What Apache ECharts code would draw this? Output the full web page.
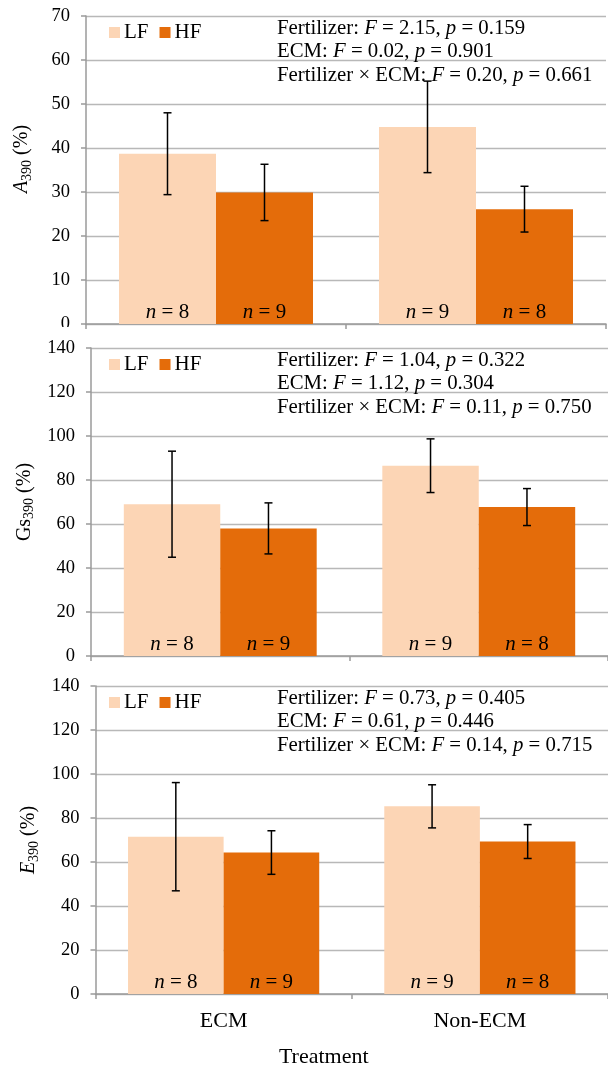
<!DOCTYPE html>
<html>
<head>
<meta charset="utf-8">
<script src="https://cdn.jsdelivr.net/npm/echarts@6/dist/echarts.min.js"></script>
<style>
html,body{margin:0;padding:0;background:#fff;}
#c{width:608px;height:1070px;}
</style>
</head>
<body>
<div id="c"></div>
<script>
// ---------- data ----------
const categories = ['ECM', 'Non-ECM'];
const seriesNames = ['LF', 'HF'];

const aLF = [38.7, 44.8];
const aLFErr = [9.3, 10.4];
const aHF = [29.9, 26.1];
const aHFErr = [6.4, 5.2];

const gsLF = [69.0, 86.5];
const gsLFErr = [24.1, 12.2];
const gsHF = [58.0, 67.7];
const gsHFErr = [11.6, 8.4];

const eLF = [71.5, 85.3];
const eLFErr = [24.6, 9.8];
const eHF = [64.3, 69.3];
const eHFErr = [9.9, 7.7];

const nLF = [8, 9];
const nHF = [9, 8];

const yMaxes = [70, 140, 140];
const yIntervals = [10, 20, 20];

const statsA = [['Fertilizer: ', 'F', ' = 2.15, ', 'p', ' = 0.159'], ['ECM: ', 'F', ' = 0.02, ', 'p', ' = 0.901'], ['Fertilizer × ECM: ', 'F', ' = 0.20, ', 'p', ' = 0.661']];
const statsGs = [['Fertilizer: ', 'F', ' = 1.04, ', 'p', ' = 0.322'], ['ECM: ', 'F', ' = 1.12, ', 'p', ' = 0.304'], ['Fertilizer × ECM: ', 'F', ' = 0.11, ', 'p', ' = 0.750']];
const statsE = [['Fertilizer: ', 'F', ' = 0.73, ', 'p', ' = 0.405'], ['ECM: ', 'F', ' = 0.61, ', 'p', ' = 0.446'], ['Fertilizer × ECM: ', 'F', ' = 0.14, ', 'p', ' = 0.715']];

// ---------- styles ----------
const FONT = "'Liberation Serif','Times New Roman',serif";
const C_LF = '#FCD5B5';
const C_HF = '#E46C0A';
const AXIS_C = '#9a9a9a';
const GRID_C = '#b8b8b8';
const BAR_FRAC = 97 / 260;

const panels = [
  { lf: aLF, lfE: aLFErr, hf: aHF, hfE: aHFErr, stats: statsA, name: '{i|A}{s|390}{r| (%)}', left: 86, top: 16, namePad: [0, 0, 0, 22] },
  { lf: gsLF, lfE: gsLFErr, hf: gsHF, hfE: gsHFErr, stats: statsGs, name: '{r|Gs}{s|390}{r| (%)}', left: 91, top: 348, namePad: [0, 0, 0, 0] },
  { lf: eLF, lfE: eLFErr, hf: eHF, hfE: eHFErr, stats: statsE, name: '{i|E}{s|390}{r| (%)}', left: 95.5, top: 686, namePad: [0, 0, 0, 0] }
];

const grids = [], xAxes = [], yAxes = [], series = [], legends = [], graphics = [];

function errRender(sign) {
  return function (params, api) {
    const ci = api.value(0), m = api.value(1), e = api.value(2);
    const band = api.size([1, 0])[0];
    const off = sign * band * BAR_FRAC / 2;
    const t = api.coord([ci, m + e]);
    const b = api.coord([ci, m - e]);
    const x = t[0] + off;
    const cap = 4;
    const st = { stroke: '#000', lineWidth: 1.5 };
    return {
      type: 'group',
      children: [
        { type: 'line', shape: { x1: x, y1: t[1], x2: x, y2: b[1] }, style: st },
        { type: 'line', shape: { x1: x - cap, y1: t[1], x2: x + cap, y2: t[1] }, style: st },
        { type: 'line', shape: { x1: x - cap, y1: b[1], x2: x + cap, y2: b[1] }, style: st }
      ]
    };
  };
}

const richN = {
  i: { fontStyle: 'italic', fontSize: 21, fontFamily: FONT, color: '#000' },
  r: { fontSize: 21, fontFamily: FONT, color: '#000' }
};

panels.forEach((p, k) => {
  const last = k === panels.length - 1;
  grids.push({ left: p.left, top: p.top, width: 520, height: 308, containLabel: false });
  xAxes.push({
    type: 'category', gridIndex: k, data: categories,
    boundaryGap: true,
    axisLine: { show: true, lineStyle: { color: AXIS_C, width: 1.5 } },
    axisTick: { show: true, alignWithLabel: false, length: 5, lineStyle: { color: AXIS_C, width: 1.5 } },
    axisLabel: { show: last, margin: 16, fontSize: 22, fontFamily: FONT, color: '#000' },
    name: last ? 'Treatment' : '',
    nameLocation: 'middle', nameGap: 52,
    nameTextStyle: { fontSize: 22, fontFamily: FONT, color: '#000', padding: [0, 56, 0, 0] },
    splitLine: { show: false }
  });
  yAxes.push({
    type: 'value', gridIndex: k, min: 0, max: yMaxes[k], interval: yIntervals[k],
    axisLine: { show: true, lineStyle: { color: AXIS_C, width: 1.5 } },
    axisTick: { show: true, length: 5, lineStyle: { color: AXIS_C, width: 1.5 } },
    axisLabel: { margin: 16, fontSize: 18.5, fontFamily: FONT, color: '#000' },
    splitLine: { show: true, lineStyle: { color: GRID_C, width: 1.3 } },
    name: p.name, nameLocation: 'middle', nameRotate: 90, nameGap: 52,
    nameTextStyle: {
      padding: p.namePad,
      rich: {
        i: { fontStyle: 'italic', fontSize: 20, fontFamily: FONT, color: '#000', lineHeight: 24, verticalAlign: 'middle' },
        r: { fontSize: 20, fontFamily: FONT, color: '#000', lineHeight: 24, verticalAlign: 'middle' },
        s: { fontSize: 14, fontFamily: FONT, color: '#000', lineHeight: 12, verticalAlign: 'bottom' }
      }
    }
  });
  const mk = (name, vals, ns, color) => ({
    type: 'bar', name: name, xAxisIndex: k, yAxisIndex: k, data: vals,
    barWidth: (BAR_FRAC * 100) + '%', barGap: '0%',
    itemStyle: { color: color },
    label: {
      show: true, position: 'insideBottom', distance: 1,
      formatter: (prm) => '{i|n}{r| = ' + ns[prm.dataIndex] + '}',
      rich: richN
    },
    z: 2
  });
  series.push(mk('LF', p.lf, nLF, C_LF));
  series.push(mk('HF', p.hf, nHF, C_HF));
  series.push({
    type: 'custom', xAxisIndex: k, yAxisIndex: k, renderItem: errRender(-1),
    data: categories.map((c, i) => [i, p.lf[i], p.lfE[i]]), encode: { x: 0, y: 1 }, z: 5, silent: true
  });
  series.push({
    type: 'custom', xAxisIndex: k, yAxisIndex: k, renderItem: errRender(1),
    data: categories.map((c, i) => [i, p.hf[i], p.hfE[i]]), encode: { x: 0, y: 1 }, z: 5, silent: true
  });
  legends.push({
    data: seriesNames, left: 109, top: p.top + 6, padding: 0,
    icon: 'rect', itemWidth: 11, itemHeight: 11, itemGap: 11,
    textStyle: { fontSize: 21, fontFamily: FONT, color: '#000', lineHeight: 21, padding: [0, 0, 0, -1] },
    selectedMode: false
  });
  const txt = p.stats.map(l => '{r|' + l[0] + '}{i|' + l[1] + '}{r|' + l[2] + '}{i|' + l[3] + '}{r|' + l[4] + '}').join('\n');
  graphics.push({
    type: 'text', x: 277, y: p.top + 0.5, z: 10,
    style: {
      text: txt,
      rich: {
        r: { fontSize: 20.8, fontFamily: FONT, fill: '#000', lineHeight: 23.5 },
        i: { fontSize: 20.8, fontFamily: FONT, fontStyle: 'italic', fill: '#000', lineHeight: 23.5 }
      }
    }
  });
});

// mimic the clipped "0" label of the top panel (panel boundary)
graphics.push({ type: 'rect', shape: { x: 0, y: 327, width: 84, height: 12 }, style: { fill: '#fff' }, z: 100 });

const chart = echarts.init(document.getElementById('c'), null, { renderer: 'canvas' });
chart.setOption({
  animation: false,
  backgroundColor: '#fff',
  grid: grids,
  xAxis: xAxes,
  yAxis: yAxes,
  legend: legends,
  series: series,
  graphic: graphics
});
</script>
</body>
</html>
